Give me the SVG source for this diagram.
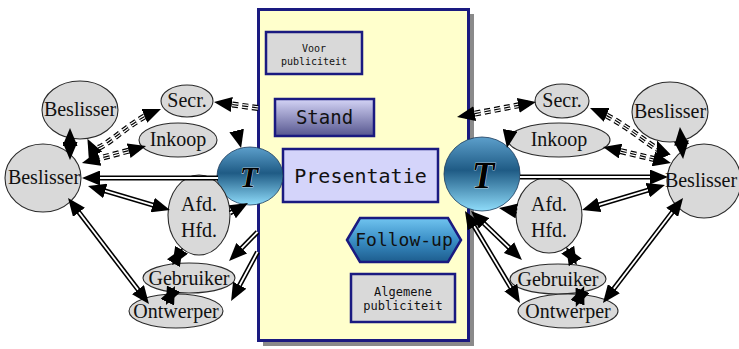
<svg xmlns="http://www.w3.org/2000/svg" width="739" height="349" viewBox="0 0 739 349">
<defs>
<style>
.nd{fill:#d9d9d9;stroke:#2a2a2a;stroke-width:1.1}
.nt{font-family:"Liberation Serif","Times New Roman",serif;font-size:20px;fill:#111;text-anchor:middle}
.mono{font-family:"DejaVu Sans Mono","Liberation Mono",monospace;fill:#111;text-anchor:middle}
.box{stroke:#1a1a80;stroke-width:2.5}
.dbo{fill:none;stroke:#000;stroke-width:5}
.dbi{fill:none;stroke:#fff;stroke-width:1.8}
.dso{fill:none;stroke:#000;stroke-width:6;stroke-dasharray:6 4}
.dsm{fill:none;stroke:#fff;stroke-width:3.6;stroke-dasharray:6 4}
.dsi{fill:none;stroke:#000;stroke-width:1.2;stroke-dasharray:6 4}
.tt{font-family:"Liberation Serif","Times New Roman",serif;font-weight:bold;font-style:italic;fill:#000;text-anchor:middle;stroke:#fff;stroke-width:0.6;paint-order:stroke}
</style>
<marker id="ah" viewBox="0 0 18 15" refX="10" refY="7.5" markerWidth="18" markerHeight="15" markerUnits="userSpaceOnUse" orient="auto-start-reverse">
<path d="M0,0 L18,7.5 L0,15 z" fill="#000"/>
</marker>
<linearGradient id="gT" x1="0" y1="0" x2="0" y2="1">
<stop offset="0" stop-color="#5c9fcb"/>
<stop offset="0.45" stop-color="#1f5b85"/>
<stop offset="1" stop-color="#8fdcfa"/>
</linearGradient>
<linearGradient id="gS" x1="0" y1="0" x2="0" y2="1">
<stop offset="0" stop-color="#d4d4f6"/>
<stop offset="1" stop-color="#56568f"/>
</linearGradient>
<linearGradient id="gF" x1="0" y1="0" x2="0" y2="1">
<stop offset="0" stop-color="#70c4f0"/>
<stop offset="0.5" stop-color="#3b8fc6"/>
<stop offset="1" stop-color="#1d5d8e"/>
</linearGradient>
</defs>

<g id="panel">
<rect x="263" y="14" width="211" height="332" fill="#8a8a8a"/>
<rect x="258.5" y="9.5" width="210" height="331" fill="#ffffcc" stroke="#1a1a80" stroke-width="3"/>
</g>
<g id="voor">
<rect class="box" x="266" y="32" width="96" height="42" fill="#d9d9d9"/>
<text class="mono" x="314" y="52" font-size="10">Voor</text>
<text class="mono" x="314" y="65" font-size="10">publiciteit</text>
</g>
<g id="stand">
<rect class="box" x="275" y="99" width="99" height="37" fill="url(#gS)"/>
<text class="mono" x="324.5" y="124" font-size="19">Stand</text>
</g>
<g id="presentatie">
<rect class="box" x="283" y="149" width="155" height="53" fill="#d4d4fa"/>
<text class="mono" x="360.5" y="183" font-size="20">Presentatie</text>
</g>
<g id="followup">
<polygon class="box" points="347,240 360,218 448,218 461,240 448,262 360,262" fill="url(#gF)"/>
<text class="mono" x="404" y="246" font-size="18">Follow-up</text>
</g>
<g id="algemene">
<rect class="box" x="351" y="274" width="104" height="48" fill="#d9d9d9"/>
<text class="mono" x="403" y="296" font-size="12">Algemene</text>
<text class="mono" x="403" y="310" font-size="12">publiciteit</text>
</g>

<g id="t-left">
<ellipse cx="250" cy="176" rx="33" ry="29" fill="url(#gT)" stroke="#1a3a5a" stroke-width="0.8"/>
<text class="tt" x="249" y="187" font-size="30">T</text>
</g>
<g id="t-right">
<ellipse cx="482" cy="174" rx="38" ry="37" fill="url(#gT)" stroke="#1a3a5a" stroke-width="0.8"/>
<text class="tt" x="483" y="188" font-size="37">T</text>
</g>

<g id="l-beslisser-top"><ellipse class="nd" cx="80" cy="110" rx="38" ry="29"/><text class="nt" x="80" y="116">Beslisser</text></g>
<g id="l-beslisser"><ellipse class="nd" cx="43" cy="178" rx="38" ry="34"/><text class="nt" x="44" y="184">Beslisser</text></g>
<g id="l-secr"><ellipse class="nd" cx="187" cy="101" rx="26" ry="16"/><text class="nt" x="187" y="107">Secr.</text></g>
<g id="l-inkoop"><ellipse class="nd" cx="178" cy="140" rx="39" ry="17"/><text class="nt" x="178" y="146">Inkoop</text></g>
<g id="l-afd"><ellipse class="nd" cx="199" cy="215" rx="31" ry="40"/><text class="nt" x="199" y="211">Afd.</text><text class="nt" x="199" y="237">Hfd.</text></g>
<g id="l-gebruiker"><ellipse class="nd" cx="189" cy="278" rx="46" ry="15"/><text class="nt" x="189" y="285">Gebruiker</text></g>
<g id="l-ontwerper"><ellipse class="nd" cx="176" cy="311" rx="47" ry="17"/><text class="nt" x="176" y="318">Ontwerper</text></g>

<g id="r-beslisser-top"><ellipse class="nd" cx="670" cy="112" rx="38" ry="30"/><text class="nt" x="670" y="118">Beslisser</text></g>
<g id="r-beslisser"><ellipse class="nd" cx="704" cy="181" rx="37" ry="37"/><text class="nt" x="701" y="187">Beslisser</text></g>
<g id="r-secr"><ellipse class="nd" cx="562" cy="101" rx="27" ry="17"/><text class="nt" x="562" y="107">Secr.</text></g>
<g id="r-inkoop"><ellipse class="nd" cx="559" cy="140" rx="51" ry="17"/><text class="nt" x="559" y="146">Inkoop</text></g>
<g id="r-afd"><ellipse class="nd" cx="549" cy="215" rx="33" ry="38"/><text class="nt" x="549" y="211">Afd.</text><text class="nt" x="549" y="237">Hfd.</text></g>
<g id="r-gebruiker"><ellipse class="nd" cx="558" cy="279" rx="48" ry="15"/><text class="nt" x="558" y="286">Gebruiker</text></g>
<g id="r-ontwerper"><ellipse class="nd" cx="568" cy="311" rx="50" ry="17"/><text class="nt" x="568" y="318">Ontwerper</text></g>

<g id="connectors">
<path class="dso" d="M258,108 L221.9,103.1"/><path class="dsm" d="M258,108 L221.9,103.1"/><path class="dsi" d="M258,108 L221.9,103.1" marker-end="url(#ah)"/>
<path class="dso" d="M153.6,112 C125,124 97,158 91,146"/><path class="dsm" d="M153.6,112 C125,124 97,158 91,146"/><path class="dsi" d="M153.6,112 C125,124 97,158 91,146" marker-start="url(#ah)" marker-end="url(#ah)"/>
<path class="dso" d="M138.3,148.1 L89.7,161"/><path class="dsm" d="M138.3,148.1 L89.7,161"/><path class="dsi" d="M138.3,148.1 L89.7,161" marker-start="url(#ah)" marker-end="url(#ah)"/>
<path class="dbo" d="M70,136 L70,152"/><path class="dbi" d="M70,136 L70,152" marker-start="url(#ah)" marker-end="url(#ah)"/>
<path class="dbo" d="M218,178 L90,178"/><path class="dbi" d="M218,178 L90,178" marker-end="url(#ah)"/>
<path class="dbo" d="M95.7,188.2 L162.3,207.8"/><path class="dbi" d="M95.7,188.2 L162.3,207.8" marker-start="url(#ah)" marker-end="url(#ah)"/>
<path class="dbo" d="M72.9,204.4 L144.1,297.6"/><path class="dbi" d="M72.9,204.4 L144.1,297.6" marker-start="url(#ah)" marker-end="url(#ah)"/>
<path class="dbo" d="M178.6,254.7 L176.4,258.3"/><path class="dbi" d="M178.6,254.7 L176.4,258.3" marker-start="url(#ah)" marker-end="url(#ah)"/>
<path class="dbo" d="M171.6,293.2 L169.4,297.8"/><path class="dbi" d="M171.6,293.2 L169.4,297.8" marker-start="url(#ah)" marker-end="url(#ah)"/>
<path class="dbo" d="M257.5,232 L234.7,255.3"/><path class="dbi" d="M257.5,232 L234.7,255.3" marker-end="url(#ah)"/>
<path class="dbo" d="M257.5,252 L234.9,294"/><path class="dbi" d="M257.5,252 L234.9,294" marker-end="url(#ah)"/>
<path class="dbo" d="M230,213 L241,206.9"/><path class="dbi" d="M230,213 L241,206.9" marker-end="url(#ah)"/>
<path class="dbo" d="M237,132 L239.1,140.2"/><path class="dbi" d="M237,132 L239.1,140.2" marker-end="url(#ah)"/>
<path class="dso" d="M464.9,115.5 L528.1,103.5"/><path class="dsm" d="M464.9,115.5 L528.1,103.5"/><path class="dsi" d="M464.9,115.5 L528.1,103.5" marker-start="url(#ah)" marker-end="url(#ah)"/>
<path class="dso" d="M597.4,111.1 C626,123 664,158 660,148"/><path class="dsm" d="M597.4,111.1 C626,123 664,158 660,148"/><path class="dsi" d="M597.4,111.1 C626,123 664,158 660,148" marker-start="url(#ah)" marker-end="url(#ah)"/>
<path class="dso" d="M610.8,148.8 L663.2,161.2"/><path class="dsm" d="M610.8,148.8 L663.2,161.2"/><path class="dsi" d="M610.8,148.8 L663.2,161.2" marker-start="url(#ah)" marker-end="url(#ah)"/>
<path class="dbo" d="M680.7,135 L682.3,151"/><path class="dbi" d="M680.7,135 L682.3,151" marker-start="url(#ah)" marker-end="url(#ah)"/>
<path class="dbo" d="M520,177 L660,177"/><path class="dbi" d="M520,177 L660,177" marker-end="url(#ah)"/>
<path class="dbo" d="M657.3,187.3 L589.7,207.7"/><path class="dbi" d="M657.3,187.3 L589.7,207.7" marker-start="url(#ah)" marker-end="url(#ah)"/>
<path class="dbo" d="M678.2,204.4 L607.8,296.6"/><path class="dbi" d="M678.2,204.4 L607.8,296.6" marker-start="url(#ah)" marker-end="url(#ah)"/>
<path class="dbo" d="M510,131 L508.4,140.1"/><path class="dbi" d="M510,131 L508.4,140.1" marker-end="url(#ah)"/>
<path class="dbo" d="M517,211 L506.9,209.3"/><path class="dbi" d="M517,211 L506.9,209.3" marker-end="url(#ah)"/>
<path class="dbo" d="M476.8,216.5 L516.2,254.5"/><path class="dbi" d="M476.8,216.5 L516.2,254.5" marker-start="url(#ah)" marker-end="url(#ah)"/>
<path class="dbo" d="M469.1,217.9 L515.9,296.1"/><path class="dbi" d="M469.1,217.9 L515.9,296.1" marker-start="url(#ah)" marker-end="url(#ah)"/>
<path class="dbo" d="M570.2,253.8 L572.8,258.2"/><path class="dbi" d="M570.2,253.8 L572.8,258.2" marker-start="url(#ah)" marker-end="url(#ah)"/>
<path class="dbo" d="M581.2,293.5 L578.8,299.5"/><path class="dbi" d="M581.2,293.5 L578.8,299.5" marker-start="url(#ah)" marker-end="url(#ah)"/>
</g>
</svg>
